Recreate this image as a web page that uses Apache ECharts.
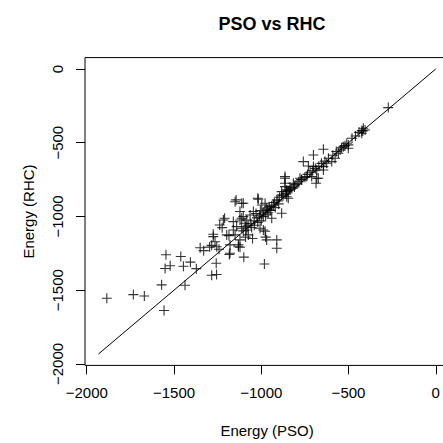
<!DOCTYPE html>
<html>
<head>
<meta charset="utf-8">
<script src="https://cdn.jsdelivr.net/npm/echarts@6/dist/echarts.min.js"></script>
<style>
  html, body { margin: 0; padding: 0; background: #fff; }
  #chart { width: 443px; height: 443px; }
</style>
</head>
<body>
<div id="chart"></div>
<script>
// tick positions for both axes
const tickValues = [-2000, -1500, -1000, -500, 0];

// reference line y = x
const refLine = [[-1933, -1933], [0, 0]];

// energies: [PSO, RHC]
const outlierPoints = [
    [-1885, -1555], [-1733, -1530], [-1670, -1539], [-1557, -1638], [-1571, -1464],
    [-1437, -1467], [-1551, -1353], [-1522, -1334], [-1546, -1260], [-1461, -1272],
    [-1446, -1338], [-1406, -1310], [-1372, -1354], [-1350, -1212], [-1330, -1232],
    [-1284, -1399], [-1256, -1394], [-1258, -1317], [-1275, -1121], [-1284, -1196],
    [-1265, -1172], [-1242, -1222], [-1296, -1208], [-1238, -1058], [-1210, -1012],
    [-1224, -1076], [-1183, -1258], [-1185, -1130], [-1160, -1092], [-1141, -1069],
    [-1131, -1193], [-1122, -1209], [-1100, -1276], [-1150, -1125], [-1112, -1012],
    [-1093, -1046], [-1083, -1092], [-1103, -1098], [-1074, -1125], [-1122, -1024]
];

const midPoints = [
    [-759, -628], [-730, -658], [-864, -730], [-864, -775], [-835, -802],
    [-806, -786], [-768, -753], [-739, -730], [-854, -832], [-883, -854],
    [-845, -877], [-911, -888], [-931, -922], [-883, -978], [-950, -956],
    [-978, -911], [-1017, -883], [-997, -922], [-969, -944], [-1103, -911],
    [-1150, -900], [-1122, -967], [-1103, -1001], [-1217, -1024], [-1160, -1035],
    [-1083, -1024], [-1064, -990], [-1045, -967], [-988, -1001], [-940, -1012],
    [-1112, -1080], [-1007, -1080], [-988, -1092], [-969, -1159], [-911, -1159],
    [-911, -1216], [-1179, -1250], [-1275, -1137], [-1198, -1125], [-1255, -1205],
    [-1131, -1205], [-1122, -1159], [-1179, -1193], [-982, -1322], [-1144, -888],
    [-1112, -911], [-1020, -877], [-1050, -1150], [-1090, -1140], [-978, -1100],
    [-975, -1140]
];

const upperPoints = [
    [-424, -418], [-415, -402], [-510, -504], [-530, -527], [-501, -538],
    [-548, -549], [-644, -544], [-701, -583], [-577, -605], [-596, -628],
    [-625, -639], [-644, -662], [-701, -662], [-682, -685], [-673, -741],
    [-711, -730], [-778, -741], [-816, -775], [-864, -741], [-864, -798],
    [-883, -832], [-835, -820], [-854, -866], [-558, -572], [-501, -515],
    [-272, -262], [-418, -420], [-424, -436], [-405, -414], [-686, -775],
    [-682, -741], [-644, -685], [-854, -820]
];

// the dense band sitting on the line
const bandPoints = [
    [-1060, -1050], [-1040, -1030], [-1025, -1010], [-1010, -995], [-995, -985],
    [-985, -970], [-965, -955], [-955, -935], [-940, -930], [-925, -905],
    [-905, -895], [-895, -870], [-875, -860], [-860, -845], [-845, -825],
    [-825, -810], [-810, -800], [-795, -780], [-785, -765], [-770, -750],
    [-750, -735], [-735, -715], [-720, -700], [-705, -690], [-690, -675],
    [-670, -660], [-655, -640], [-635, -625], [-615, -605], [-590, -585],
    [-570, -560], [-540, -535], [-520, -520], [-480, -470], [-460, -455],
    [-440, -430], [-1090, -1070], [-1075, -1060], [-1055, -1075], [-1040, -1060],
    [-1020, -1040], [-1000, -1030], [-1030, -980], [-1005, -960], [-975, -990],
    [-960, -975], [-945, -960], [-920, -940], [-900, -915]
];

const allPoints = outlierPoints.concat(midPoints, upperPoints, bandPoints);

const FONT = 'Liberation Sans, Arial, sans-serif';
const minus = v => String(v).replace('-', '\u2212');
const chart = echarts.init(document.getElementById('chart'), null, { renderer: 'svg' });

chart.setOption({
    animation: false,
    backgroundColor: '#fff',
    title: {
        text: 'PSO vs RHC',
        left: 267,
        top: 10,
        textAlign: 'center',
        textStyle: { fontFamily: FONT, fontSize: 18, fontWeight: 'bold', color: '#000' }
    },
    grid: {
        left: 85, top: 57.6, width: 364.2, height: 307.8,
        show: true, borderColor: '#000', borderWidth: 1,
        outerBoundsMode: 'none'
    },
    xAxis: {
        type: 'value', min: -2010, max: 77,
        name: 'Energy (PSO)', nameLocation: 'middle', nameGap: 58,
        nameMoveOverlap: false,
        nameTextStyle: { fontFamily: FONT, fontSize: 15, color: '#000' },
        axisLine: { show: false, onZero: false },
        splitLine: { show: false },
        axisTick: { show: true, customValues: tickValues, length: 9, lineStyle: { color: '#000' } },
        axisLabel: {
            customValues: tickValues, margin: 20,
            fontFamily: FONT, fontSize: 15, color: '#000',
            formatter: minus
        }
    },
    yAxis: {
        type: 'value', min: -2010, max: 77,
        name: 'Energy (RHC)', nameLocation: 'middle', nameGap: 49, nameRotate: 90,
        nameMoveOverlap: false,
        nameTextStyle: { fontFamily: FONT, fontSize: 15, color: '#000' },
        axisLine: { show: false, onZero: false },
        splitLine: { show: false },
        axisTick: { show: true, customValues: tickValues, length: 9, lineStyle: { color: '#000' } },
        axisLabel: {
            customValues: tickValues, margin: 20, rotate: 90,
            fontFamily: FONT, fontSize: 15, color: '#000',
            formatter: minus
        }
    },
    series: [
        {
            type: 'line',
            data: refLine,
            showSymbol: false,
            silent: true,
            lineStyle: { color: '#000', width: 1 },
            z: 1
        },
        {
            type: 'scatter',
            data: allPoints,
            symbol: 'path://M0,5L10,5M5,0L5,10',
            symbolSize: 10,
            itemStyle: { color: 'rgba(0,0,0,0)', borderColor: '#000', borderWidth: 1.1 },
            z: 2
        }
    ]
});
</script>
</body>
</html>
